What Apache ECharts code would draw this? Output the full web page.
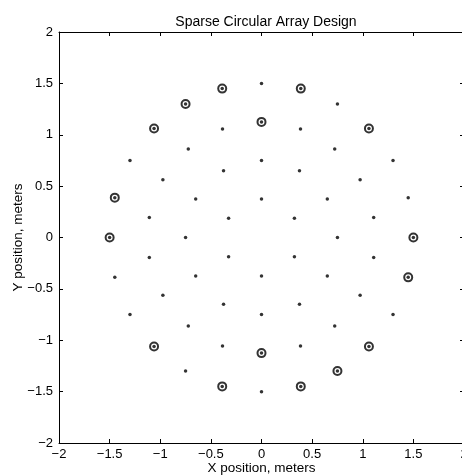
<!DOCTYPE html>
<html>
<head>
<meta charset="utf-8">
<script src="https://cdn.jsdelivr.net/npm/echarts@6/dist/echarts.min.js"></script>
<style>
  html, body { margin: 0; padding: 0; background: #fff; }
  #chart { width: 462px; height: 476px; }
</style>
</head>
<body>
<div id="chart"></div>
<script>
  // all array elements (rings of 0.375, 0.75, 1.125 and 1.5 m)
  const elemX = [
    0.325, 0, -0.325, -0.325, 0, 0.325,
    0.75, 0.65, 0.375, 0, -0.375, -0.65, -0.75, -0.65, -0.375, 0, 0.375, 0.65,
    1.108, 0.974, 0.723, 0.385, 0, -0.385, -0.723, -0.974, -1.108,
    -1.108, -0.974, -0.723, -0.385, 0, 0.385, 0.723, 0.974, 1.108,
    1.5, 1.449, 1.299, 1.061, 0.75, 0.388, 0, -0.388, -0.75, -1.061, -1.299, -1.449,
    -1.5, -1.449, -1.299, -1.061, -0.75, -0.388, 0, 0.388, 0.75, 1.061, 1.299, 1.449
  ]
  const elemY = [
    0.188, 0.375, 0.188, -0.188, -0.375, -0.188,
    0, 0.375, 0.65, 0.75, 0.65, 0.375, 0, -0.375, -0.65, -0.75, -0.65, -0.375,
    0.195, 0.563, 0.862, 1.057, 1.125, 1.057, 0.862, 0.563, 0.195,
    -0.195, -0.563, -0.862, -1.057, -1.125, -1.057, -0.862, -0.563, -0.195,
    0, 0.388, 0.75, 1.061, 1.299, 1.449, 1.5, 1.449, 1.299, 1.061, 0.75, 0.388,
    0, -0.388, -0.75, -1.061, -1.299, -1.449, -1.5, -1.449, -1.299, -1.061, -0.75, -0.388
  ]
  // elements kept in the sparse design (circled)
  const selX = [0, 0, 1.5, 1.061, 0.388, -0.388, -0.75, -1.061, -1.449, -1.5, -1.061, -0.388, 0.388, 0.75, 1.061, 1.449]
  const selY = [1.125, -1.125, 0, 1.061, 1.449, 1.449, 1.299, 1.061, 0.388, 0, -1.061, -1.449, -1.449, -1.299, -1.061, -0.388]

  const tickMin = -2
  const tickMax = 2
  const tickStep = 0.5

  const font = 'Liberation Sans, Arial, Helvetica, sans-serif'
  const fmt = v => (v < 0 ? '\u2212' : '') + Math.abs(v)

  function axis (extra) {
    return Object.assign({
      type: 'value',
      min: tickMin,
      max: tickMax,
      interval: tickStep,
      splitLine: { show: false },
      axisLine: { show: true, onZero: false, lineStyle: { color: '#000', width: 1 } },
      axisTick: { show: true, inside: true, length: 4, lineStyle: { color: '#000' } },
      axisLabel: { show: false }
    }, extra)
  }

  const labelStyle = {
    show: true,
    color: '#000',
    fontSize: 13,
    fontFamily: font,
    formatter: fmt,
    showMinLabel: true,
    showMaxLabel: true,
    hideOverlap: false
  }

  const chart = echarts.init(document.getElementById('chart'))
  chart.setOption({
    animation: false,
    backgroundColor: '#fff',
    title: {
      text: 'Sparse Circular Array Design',
      left: 261,
      top: 10,
      textAlign: 'center',
      textStyle: { fontSize: 14, fontWeight: 'normal', color: '#000', fontFamily: font }
    },
    grid: { left: 59, top: 32, width: 405, height: 411, outerBoundsMode: 'none', containLabel: false },
    xAxis: [
      axis({
        position: 'bottom',
        axisLabel: Object.assign({ margin: 5 }, labelStyle),
        name: 'X position, meters',
        nameLocation: 'middle',
        nameGap: 18,
        nameMoveOverlap: false,
        nameTextStyle: { color: '#000', fontSize: 13.5, fontFamily: font }
      }),
      axis({ position: 'top' })
    ],
    yAxis: [
      axis({
        position: 'left',
        axisLabel: Object.assign({ margin: 6 }, labelStyle),
        name: 'Y position, meters',
        nameLocation: 'middle',
        nameGap: 34,
        nameMoveOverlap: false,
        nameTextStyle: { color: '#000', fontSize: 13.5, fontFamily: font }
      }),
      axis({ position: 'right' })
    ],
    series: [
      {
        type: 'scatter',
        data: elemX.map((x, i) => [x, elemY[i]]),
        symbol: 'circle',
        symbolSize: 3.5,
        itemStyle: { color: '#000' },
        z: 3
      },
      {
        type: 'scatter',
        data: selX.map((x, i) => [x, selY[i]]),
        symbol: 'circle',
        symbolSize: 8,
        itemStyle: { color: 'transparent', borderColor: '#000', borderWidth: 2 },
        z: 2
      }
    ]
  })
</script>
</body>
</html>
